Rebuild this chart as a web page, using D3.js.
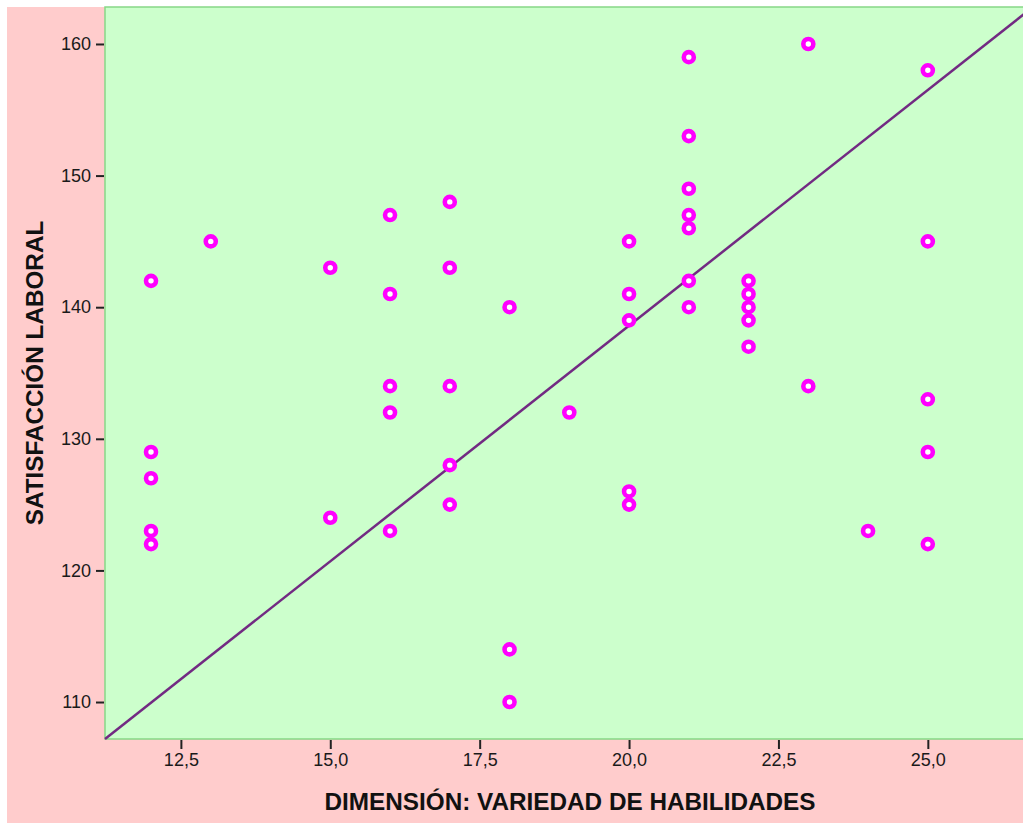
<!DOCTYPE html>
<html>
<head>
<meta charset="utf-8">
<script src="https://cdn.jsdelivr.net/npm/d3@7"></script>
<style>
  body { margin: 0; background: #fff; }
  svg { display: block; font-family: "Liberation Sans", Arial, sans-serif; }
</style>
</head>
<body>
<svg id="chart" width="1023" height="823"></svg>
<script>
// skill variety score (x) and job satisfaction (y), one entry per respondent
const habilidades = [12,12,12,12,12, 13, 15,15, 16,16,16,16,16, 17,17,17,17,17,
  18,18,18, 19, 20,20,20,20,20, 21,21,21,21,21,21,21, 22,22,22,22,22, 23,23, 24,
  25,25,25,25,25];
const satisfaccion = [142,129,127,123,122, 145, 143,124, 147,141,134,132,123,
  148,143,134,128,125, 140,114,110, 132, 145,141,139,126,125,
  159,153,149,147,146,142,140, 142,141,140,139,137, 160,134, 123,
  158,145,133,129,122];
const xTicks = [12.5, 15, 17.5, 20, 22.5, 25];
const yTicks = [110, 120, 130, 140, 150, 160];

const data = habilidades.map((x, i) => ({x: x, y: satisfaccion[i]}));

const svg = d3.select('#chart');
const fmt = d => d3.format('.1f')(d).replace('.', ',');

// plot frame runs a bit past the right edge of the picture
const xScale = d3.scaleLinear().domain([11.23, 26.76]).range([105, 1033]);
const yScale = d3.scaleLinear().domain([107.19, 162.81]).range([739, 7]);

// outer pink panel
svg.append('rect')
    .attr('x', 7).attr('y', 7)
    .attr('width', 1023).attr('height', 823)
    .attr('fill', '#ffcccc');

// plot area
svg.append('rect')
    .attr('x', xScale.range()[0]).attr('y', yScale.range()[1])
    .attr('width', xScale.range()[1] - xScale.range()[0])
    .attr('height', yScale.range()[0] - yScale.range()[1])
    .attr('fill', '#ccffcc')
    .attr('stroke', '#86d886')
    .attr('stroke-width', 1.5);

const xAxis = d3.axisBottom(xScale).tickValues(xTicks).tickFormat(fmt)
    .tickSize(10).tickSizeOuter(0).tickPadding(4);
const yAxis = d3.axisLeft(yScale).tickValues(yTicks).tickFormat(d3.format('d'))
    .tickSize(9).tickSizeOuter(0).tickPadding(5);

const xAxisG = svg.append('g')
    .attr('transform', `translate(0,${yScale.range()[0]})`)
    .call(xAxis);
const yAxisG = svg.append('g')
    .attr('transform', `translate(${xScale.range()[0]},0)`)
    .call(yAxis);

[xAxisG, yAxisG].forEach(g => {
  g.select('.domain').remove();
  g.selectAll('.tick line').attr('stroke', '#222').attr('stroke-width', 2);
  g.selectAll('.tick text').attr('fill', '#1a1a1a').attr('font-size', 18);
});
xAxisG.selectAll('.tick line').attr('y1', 1);
yAxisG.selectAll('.tick line').attr('x1', -1);

// diagonal reference line across the frame
svg.append('line')
    .attr('x1', xScale(xScale.domain()[0])).attr('y1', yScale(yScale.domain()[0]))
    .attr('x2', xScale(xScale.domain()[1])).attr('y2', yScale(yScale.domain()[1]))
    .attr('stroke', '#722a82')
    .attr('stroke-width', 2.5);

svg.append('g').selectAll('circle')
    .data(data)
  .join('circle')
    .attr('cx', d => xScale(d.x))
    .attr('cy', d => yScale(d.y))
    .attr('r', 5)
    .attr('fill', '#fff')
    .attr('stroke', '#ff00ff')
    .attr('stroke-width', 4.6);

// axis titles
svg.append('text')
    .attr('x', 570).attr('y', 810)
    .attr('text-anchor', 'middle')
    .attr('font-size', 24.3).attr('font-weight', 'bold').attr('fill', '#111')
    .text('DIMENSIÓN: VARIEDAD DE HABILIDADES');

svg.append('text')
    .attr('transform', 'translate(43,373) rotate(-90)')
    .attr('text-anchor', 'middle')
    .attr('font-size', 24.3).attr('font-weight', 'bold').attr('fill', '#111')
    .text('SATISFACCIÓN LABORAL');
</script>
</body>
</html>
